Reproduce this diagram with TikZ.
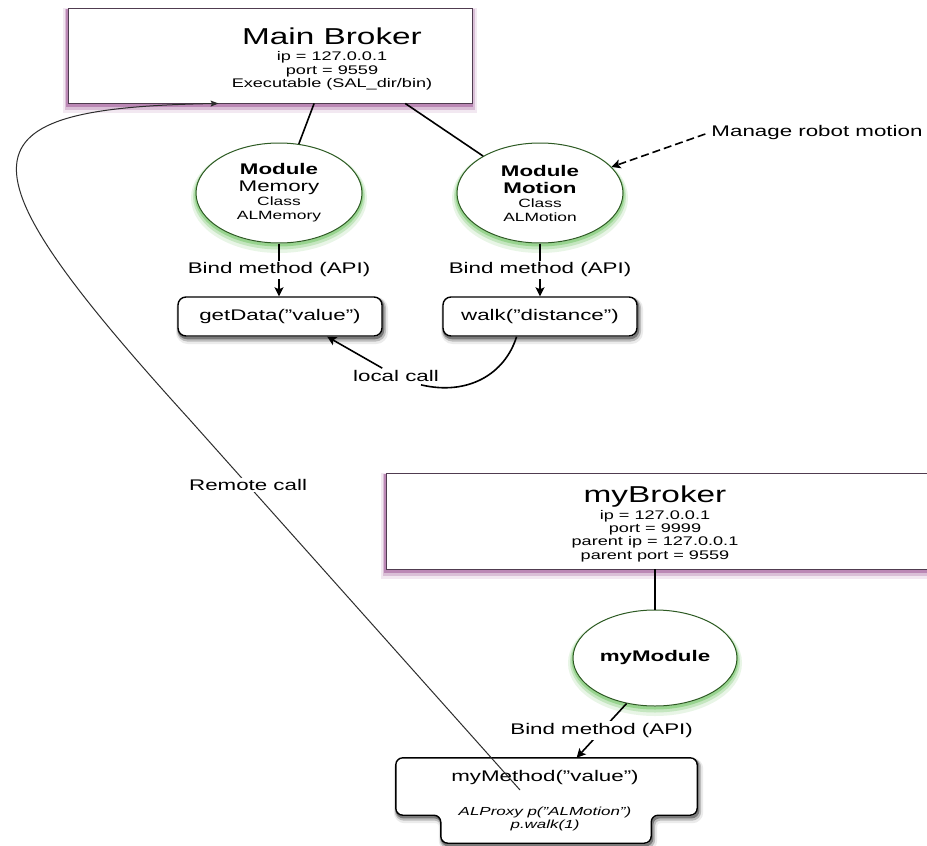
\documentclass[tikz,border=0pt]{standalone}
\usepackage{fontspec}
\setmainfont{Liberation Sans}[FakeStretch=1.45]
\usetikzlibrary{shapes.geometric, shadows, arrows.meta, calc}

\definecolor{brokeredge}{RGB}{80,60,80}
\definecolor{brokerglow}{RGB}{150,70,140}
\definecolor{moduleedge}{RGB}{45,90,35}
\definecolor{moduleglow}{RGB}{70,180,55}
\definecolor{remotegray}{RGB}{45,45,45}

\newcommand{\bigtxt}{\fontsize{23}{26}\selectfont}
\newcommand{\midtxt}{\fontsize{15.4}{17}\selectfont}
\newcommand{\smalltxt}{\fontsize{12}{14}\selectfont}
\newcommand{\brokertxt}{\fontsize{12.5}{13.3}\selectfont}

\begin{document}
\begin{tikzpicture}[x=1pt, y=-1pt,
  font=\midtxt,
  link/.style={line width=1.6pt, draw=black},
  tip/.style={-{Stealth[length=9pt,width=9pt,inset=2pt]}},
  onlink/.style={fill=white, inner sep=2pt, font=\midtxt},
  broker/.style={rectangle, draw=brokeredge, line width=0.9pt, fill=white, inner sep=0pt,
     general shadow={shadow xshift=-0.5pt, shadow yshift=-5pt, draw=brokerglow, line width=10pt, opacity=0.12},
     general shadow={shadow xshift=-0.5pt, shadow yshift=-3.5pt, draw=brokerglow, line width=6pt, opacity=0.25},
     general shadow={shadow xshift=-0.5pt, shadow yshift=-2.5pt, draw=brokerglow, line width=3pt, opacity=0.45}},
  module/.style={ellipse, draw=moduleedge, line width=1pt, fill=white, inner sep=0pt,
     minimum width=166pt, minimum height=100pt, align=center,
     general shadow={shadow yshift=-5pt, draw=moduleglow, line width=10pt, opacity=0.12},
     general shadow={shadow yshift=-3.5pt, draw=moduleglow, line width=6pt, opacity=0.22},
     general shadow={shadow yshift=-2pt, draw=moduleglow, line width=3pt, opacity=0.35}},
  callbox/.style={rectangle, rounded corners=8pt, draw=black, line width=1.4pt, fill=white,
     minimum width=204pt, minimum height=39pt, inner sep=0pt,
     general shadow={shadow xshift=2pt, shadow yshift=-4pt, draw=black, line width=8pt, opacity=0.08},
     general shadow={shadow xshift=1.5pt, shadow yshift=-3pt, draw=black, line width=5pt, opacity=0.2},
     general shadow={shadow xshift=1pt, shadow yshift=-2pt, draw=black, line width=2.5pt, opacity=0.35}},
  methodshape/.style={rounded corners=7pt, draw=black, line width=1.4pt, fill=white,
     general shadow={shadow xshift=2pt, shadow yshift=-4pt, draw=black, line width=8pt, opacity=0.08},
     general shadow={shadow xshift=1.5pt, shadow yshift=-3pt, draw=black, line width=5pt, opacity=0.2},
     general shadow={shadow xshift=1pt, shadow yshift=-2pt, draw=black, line width=2.5pt, opacity=0.35}},
  remote/.style={line width=1pt, draw=remotegray, -{Stealth[length=8pt,width=6pt,inset=1.5pt]}},
]
\useasboundingbox (0,0) rectangle (927,846);
\clip (0,0) rectangle (927,846);
\fill[white] (0,0) rectangle (927,846);

% ---- main broker and its modules ----
\node[broker, minimum width=404pt, minimum height=95pt] (mb) at (270,55.5) {};
\node[align=center, inner sep=0pt, font=\brokertxt] (mbtxt) at (332,59)
  {{\bigtxt Main Broker}\\[3pt] ip = 127.0.0.1\\ port = 9559\\ Executable (SAL\_dir/bin)};

\node[module] (me) at (279,193)
  {{\bfseries Module}\\ Memory\\[-3pt] {\smalltxt Class}\\[-3pt] {\smalltxt ALMemory}};
\node[module] (mo) at (540,193)
  {{\bfseries Module}\\ {\bfseries Motion}\\[-3pt] {\smalltxt Class}\\[-3pt] {\smalltxt ALMotion}};

\node[callbox] (gd) at (280,316.5) {getData("value")};
\node[callbox, minimum width=194pt] (wk) at (540,316.5) {walk("distance")};

\draw[link] ($(mb.south west)!0.609!(mb.south east)$) -- (me.68);
\draw[link] ($(mb.south west)!0.834!(mb.south east)$) -- (mo.147);

\draw[link, tip] (me.south) -- node[onlink] {Bind method (API)} (gd.north -| me.south);
\draw[link, tip] (mo.south) -- node[onlink] {Bind method (API)} (wk.north -| mo.south);

\node[inner sep=2pt] (mrm) at (817,133) {Manage robot motion};
\draw[link, tip, dash pattern=on 8pt off 4pt] ($(mrm.west)+(-4,1)$) -- (mo.20);

% local call between the two bound methods
\node[onlink] (lc) at (396,376) {local call};
\draw[link] ($(wk.south west)!0.38!(wk.south east)$) .. controls (505,374) and (468,396) .. ($(lc.south east)+(-20,1)$);
\draw[link, tip] (lc) -- ($(gd.south west)!0.73!(gd.south east)$);

% ---- user broker ----
\node[broker, minimum width=554pt, minimum height=96pt] (myb) at (663,521) {};
\node[align=center, inner sep=0pt, font=\brokertxt] (mybtxt) at (655,524)
  {{\bigtxt myBroker}\\[1.5pt] ip = 127.0.0.1\\ port = 9999\\ parent ip = 127.0.0.1\\ parent port = 9559};

\node[module, minimum width=164pt, minimum height=96pt] (mym) at (655,658) {\bfseries myModule};
\draw[link] (mym.north |- myb.south) -- (mym.north);

% method box with a narrower lower tab
\node[rectangle, minimum width=301pt, minimum height=57pt, inner sep=0pt] (mt) at (546.5,786.5) {};
\draw[methodshape] (mt.north west) -- (mt.north east) -- (mt.south east) -- ++(-46,0) -- ++(0,28)
  -- ($(mt.south west)+(45,28)$) -- ++(0,-28) -- (mt.south west) -- cycle;
\node[inner sep=0pt] (mtname) at (545,778) {myMethod("value")};
\node[align=center, inner sep=0pt, font=\fontsize{11.7}{13}\selectfont\itshape] (mtcode) at (545,818.5)
  {ALProxy p("ALMotion")\\ p.walk(1)};

\draw[link, tip] (mym.238) -- node[onlink] {Bind method (API)} ($(mt.north west)!0.6!(mt.north east)$);

% remote call back to the main broker
\coordinate (rcstart) at (520,790);
\coordinate (rcbend) at (190,420);
\draw[remote] (rcstart) -- node[onlink, pos=0.824, inner sep=1pt] {Remote call} (rcbend)
  .. controls (-48,158) and (-42,108) .. ($(mb.south west)!0.373!(mb.south east)$);
\end{tikzpicture}
\end{document}
